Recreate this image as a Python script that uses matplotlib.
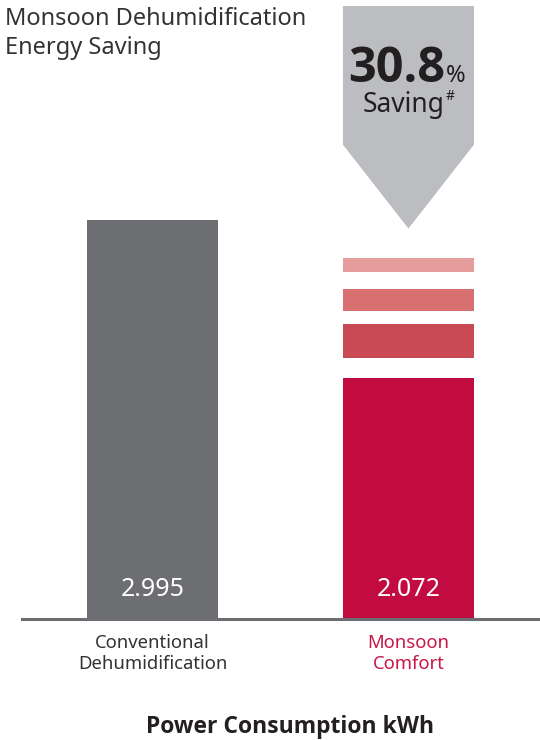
import matplotlib
matplotlib.use('Agg')
import matplotlib.pyplot as plt
from matplotlib.patches import Polygon

plt.rcParams['font.family'] = ['Noto Sans', 'DejaVu Sans']

# data
categories = ['Conventional\nDehumidification', 'Monsoon\nComfort']
consumption = [2.995, 2.072]
saving_pct = 30.8
bar_colors = ['#6d6e71', '#c20c40']
label_colors = ['#333333', '#c8174a']
# stripe bands between the two bars, as fraction of the saving gap
stripe_bands = [(0.127, 0.342), (0.424, 0.563), (0.671, 0.759)]
stripe_colors = ['#c94a55', '#d87072', '#e49d9b']

fig = plt.figure(figsize=(5.4, 7.4), dpi=100)
ax = fig.add_axes([22 / 540, 1 - 619 / 740, 518 / 540, 619 / 740])

x = range(len(categories))
width = 0.512
ax.bar(x, consumption, width=width, color=bar_colors, zorder=2)

gap = consumption[0] - consumption[1]
for (lo, hi), c in zip(stripe_bands, stripe_colors):
    ax.bar(1, (hi - lo) * gap, bottom=consumption[1] + lo * gap, width=width,
           color=c, zorder=2)

ax.set_xlim(-0.51, 1.514)
ax.set_ylim(0.664, 4.28)

# arrow showing saving
tip = consumption[0] - 0.05
shoulder = consumption[0] + 0.44
top = 4.245
arrow = Polygon([(1 - width / 2, top), (1 + width / 2, top), (1 + width / 2, shoulder),
                 (1, tip), (1 - width / 2, shoulder)], closed=True,
                facecolor='#bcbdc0', edgecolor='none', zorder=1)
ax.add_patch(arrow)

for i, v in enumerate(consumption):
    ax.annotate('{:.3f}'.format(v), (i, 0.664), xytext=(0, 21), textcoords='offset points',
                ha='center', va='center', color='white', fontsize=18)

ax.set_xticks(list(x))
ax.set_xticklabels(categories, fontsize=13.3, linespacing=1.22)
for lbl, c in zip(ax.get_xticklabels(), label_colors):
    lbl.set_color(c)
ax.tick_params(axis='x', length=0, pad=11)
ax.set_yticks([])
for s in ['top', 'right', 'left']:
    ax.spines[s].set_visible(False)
ax.spines['bottom'].set_color('#6d6e71')
ax.spines['bottom'].set_linewidth(2.2)
ax.spines['bottom'].set_zorder(3)

fig.text(0.009, 1 - 7 / 740, 'Monsoon Dehumidification\nEnergy Saving', ha='left', va='top',
         fontsize=17, color='#333333', linespacing=1.25)

fig.text(445 / 540, 1 - 82 / 740, '{:.1f}'.format(saving_pct), ha='right', va='baseline',
         fontsize=35, fontweight='bold', family=['Open Sans', 'DejaVu Sans'], color='#231f20')
fig.text(446 / 540, 1 - 82 / 740, '%', ha='left', va='baseline', fontsize=17, color='#231f20')
fig.text(404 / 540, 1 - 112 / 740, 'Saving', ha='center', va='baseline',
         fontsize=19, color='#231f20')
fig.text(446 / 540, 1 - 100 / 740, '#', ha='left', va='baseline',
         fontsize=10, color='#231f20')

fig.text(290 / 540, 1 - 727 / 740, 'Power Consumption kWh', ha='center', va='center',
         fontsize=16.5, fontweight='bold', family=['Open Sans', 'DejaVu Sans'], color='#231f20')

fig.savefig('out.png', dpi=100)
